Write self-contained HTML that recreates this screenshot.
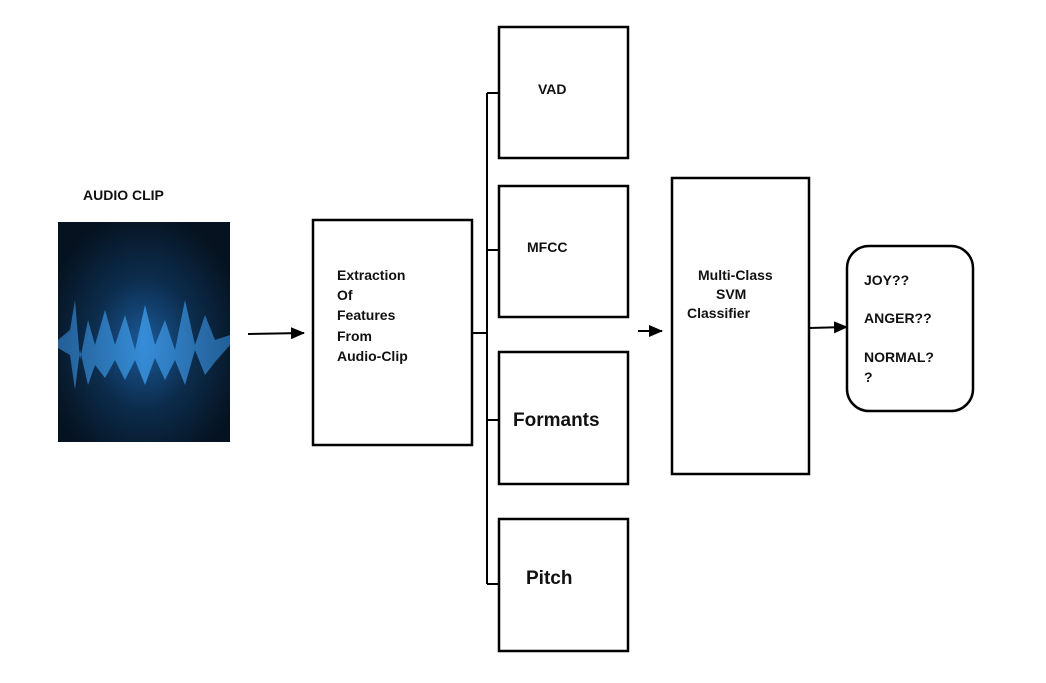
<!DOCTYPE html>
<html><head><style>
body{margin:0;background:#fff;}
.t{font-family:"Liberation Sans",sans-serif;font-weight:bold;fill:#111;}
</style></head><body>
<svg width="1046" height="678" viewBox="0 0 1046 678" xmlns="http://www.w3.org/2000/svg">
<defs>
<radialGradient id="g" cx="0.5" cy="0.55" r="0.6">
<stop offset="0" stop-color="#1a5a9a"/><stop offset="0.5" stop-color="#0c2c4c"/><stop offset="1" stop-color="#06121f"/>
</radialGradient>
<linearGradient id="w" x1="0" x2="1"><stop offset="0" stop-color="#2a6fb0"/><stop offset="0.5" stop-color="#3d9ae8"/><stop offset="1" stop-color="#2a6fb0"/></linearGradient>
<marker id="a" markerWidth="14" markerHeight="12" refX="13" refY="6" orient="auto" markerUnits="userSpaceOnUse"><path d="M0,0 L14,6 L0,12z" fill="#000"/></marker>
</defs>
<text class="t" x="83" y="200" font-size="14">AUDIO CLIP</text>
<rect x="58" y="222" width="172" height="220" fill="url(#g)"/>
<path d="M58,340 L70,330 L75,300 L80,360 L88,320 L95,345 L105,310 L115,345 L125,315 L135,350 L145,305 L155,345 L165,320 L175,350 L185,300 L195,345 L205,315 L215,340 L230,335 L230,345 L215,362 L205,375 L195,350 L185,385 L175,360 L165,380 L155,358 L145,385 L135,360 L125,380 L115,360 L105,378 L95,365 L88,385 L80,350 L75,390 L70,355 L58,348z" fill="url(#w)" opacity="0.8"/>
<g fill="none" stroke="#000" stroke-width="2.5">
<rect x="313" y="220" width="159" height="225"/>
<rect x="499" y="27" width="129" height="131"/>
<rect x="499" y="186" width="129" height="131"/>
<rect x="499" y="352" width="129" height="132"/>
<rect x="499" y="519" width="129" height="132"/>
<rect x="672" y="178" width="137" height="296"/>
<rect x="847" y="246" width="126" height="165" rx="22"/>
<path d="M472,333 H487 M487,93 V584 M487,93 H499 M487,250 H499 M487,420 H499 M487,584 H499" stroke-width="2"/>
<line x1="248" y1="334" x2="304" y2="333" marker-end="url(#a)" stroke-width="2"/>
<line x1="638" y1="331" x2="662" y2="331" marker-end="url(#a)" stroke-width="2"/>
<line x1="809" y1="328" x2="847" y2="327" marker-end="url(#a)" stroke-width="2"/>
</g>
<text class="t" font-size="14"><tspan x="337" y="280">Extraction</tspan><tspan x="337" y="300">Of</tspan><tspan x="337" y="320">Features</tspan><tspan x="337" y="341">From</tspan><tspan x="337" y="361">Audio-Clip</tspan></text>
<text class="t" x="538" y="94" font-size="14">VAD</text>
<text class="t" x="527" y="252" font-size="14">MFCC</text>
<text class="t" x="513" y="426" font-size="19">Formants</text>
<text class="t" x="526" y="584" font-size="19">Pitch</text>
<text class="t" font-size="14"><tspan x="698" y="280">Multi-Class</tspan><tspan x="716" y="299">SVM</tspan><tspan x="687" y="318">Classifier</tspan></text>
<text class="t" font-size="14"><tspan x="864" y="285">JOY??</tspan><tspan x="864" y="323">ANGER??</tspan><tspan x="864" y="362">NORMAL?</tspan><tspan x="864" y="382">?</tspan></text>
</svg>
</body></html>
